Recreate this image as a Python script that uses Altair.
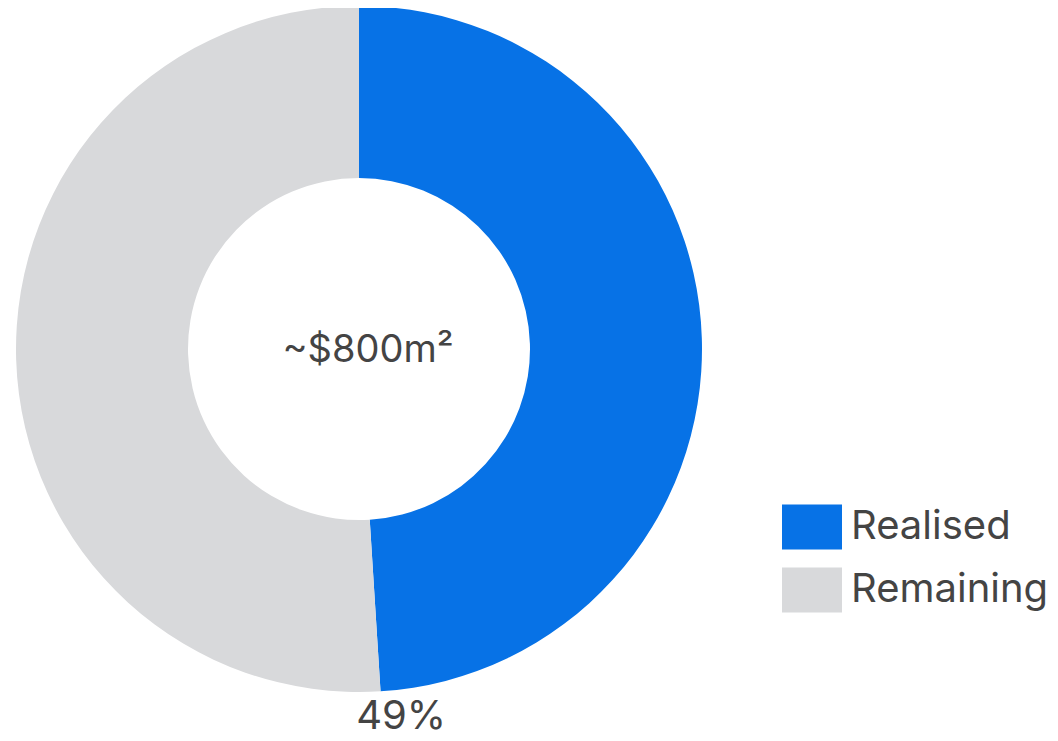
import altair as alt
import pandas as pd

categories = ["Realised", "Remaining"]
shares = [0.49, 0.51]
colors = ["#0772E6", "#D8D9DB"]
center_label = "~$800m²"
pct_label = "49%"

df = pd.DataFrame({"category": categories, "value": shares, "order": [0, 1]})
lab = pd.DataFrame({"value": [shares[0]], "label": [pct_label]})
ctr = pd.DataFrame({"label": [center_label]})

CX, CY = 351, 341
FONT = "Inter"

arc = alt.Chart(df).mark_arc(outerRadius=343, innerRadius=171, stroke=None).encode(
    theta=alt.Theta("value:Q", stack=True),
    order=alt.Order("order:Q"),
    color=alt.Color(
        "category:N",
        scale=alt.Scale(domain=categories, range=colors),
        legend=alt.Legend(
            title=None,
            orient="none",
            legendX=774,
            legendY=489,
            symbolType="M-1,-0.75H1V0.75H-1Z",
            symbolSize=3600,
            symbolStrokeWidth=0,
            symbolOpacity=1,
            labelFont=FONT,
            labelFontSize=40,
            labelColor="#444444",
            labelOffset=9,
            rowPadding=10,
            labelLimit=400,
        ),
    ),
    x=alt.value(CX),
    y=alt.value(CY),
)

pct = alt.Chart(lab).mark_text(
    font=FONT, fontSize=40, color="#444444", align="center", baseline="middle", dx=19
).encode(
    theta=alt.Theta("value:Q", scale=alt.Scale(domain=[0, 1]), stack=None),
    radius=alt.value(369),
    text="label:N",
    x=alt.value(CX),
    y=alt.value(CY),
)

center = alt.Chart(ctr).mark_text(
    font=FONT, fontSize=38, color="#444444", align="center", baseline="alphabetic", dx=9, dy=13
).encode(
    text="label:N",
    x=alt.value(CX),
    y=alt.value(CY),
)

chart = alt.layer(arc, pct, center).resolve_scale(theta="independent").properties(
    width=1042, height=733, padding=0, autosize=alt.AutoSizeParams(type="none")
).configure_view(stroke=None)

chart.save("out.html", embed_options={"renderer": "svg", "actions": False})
